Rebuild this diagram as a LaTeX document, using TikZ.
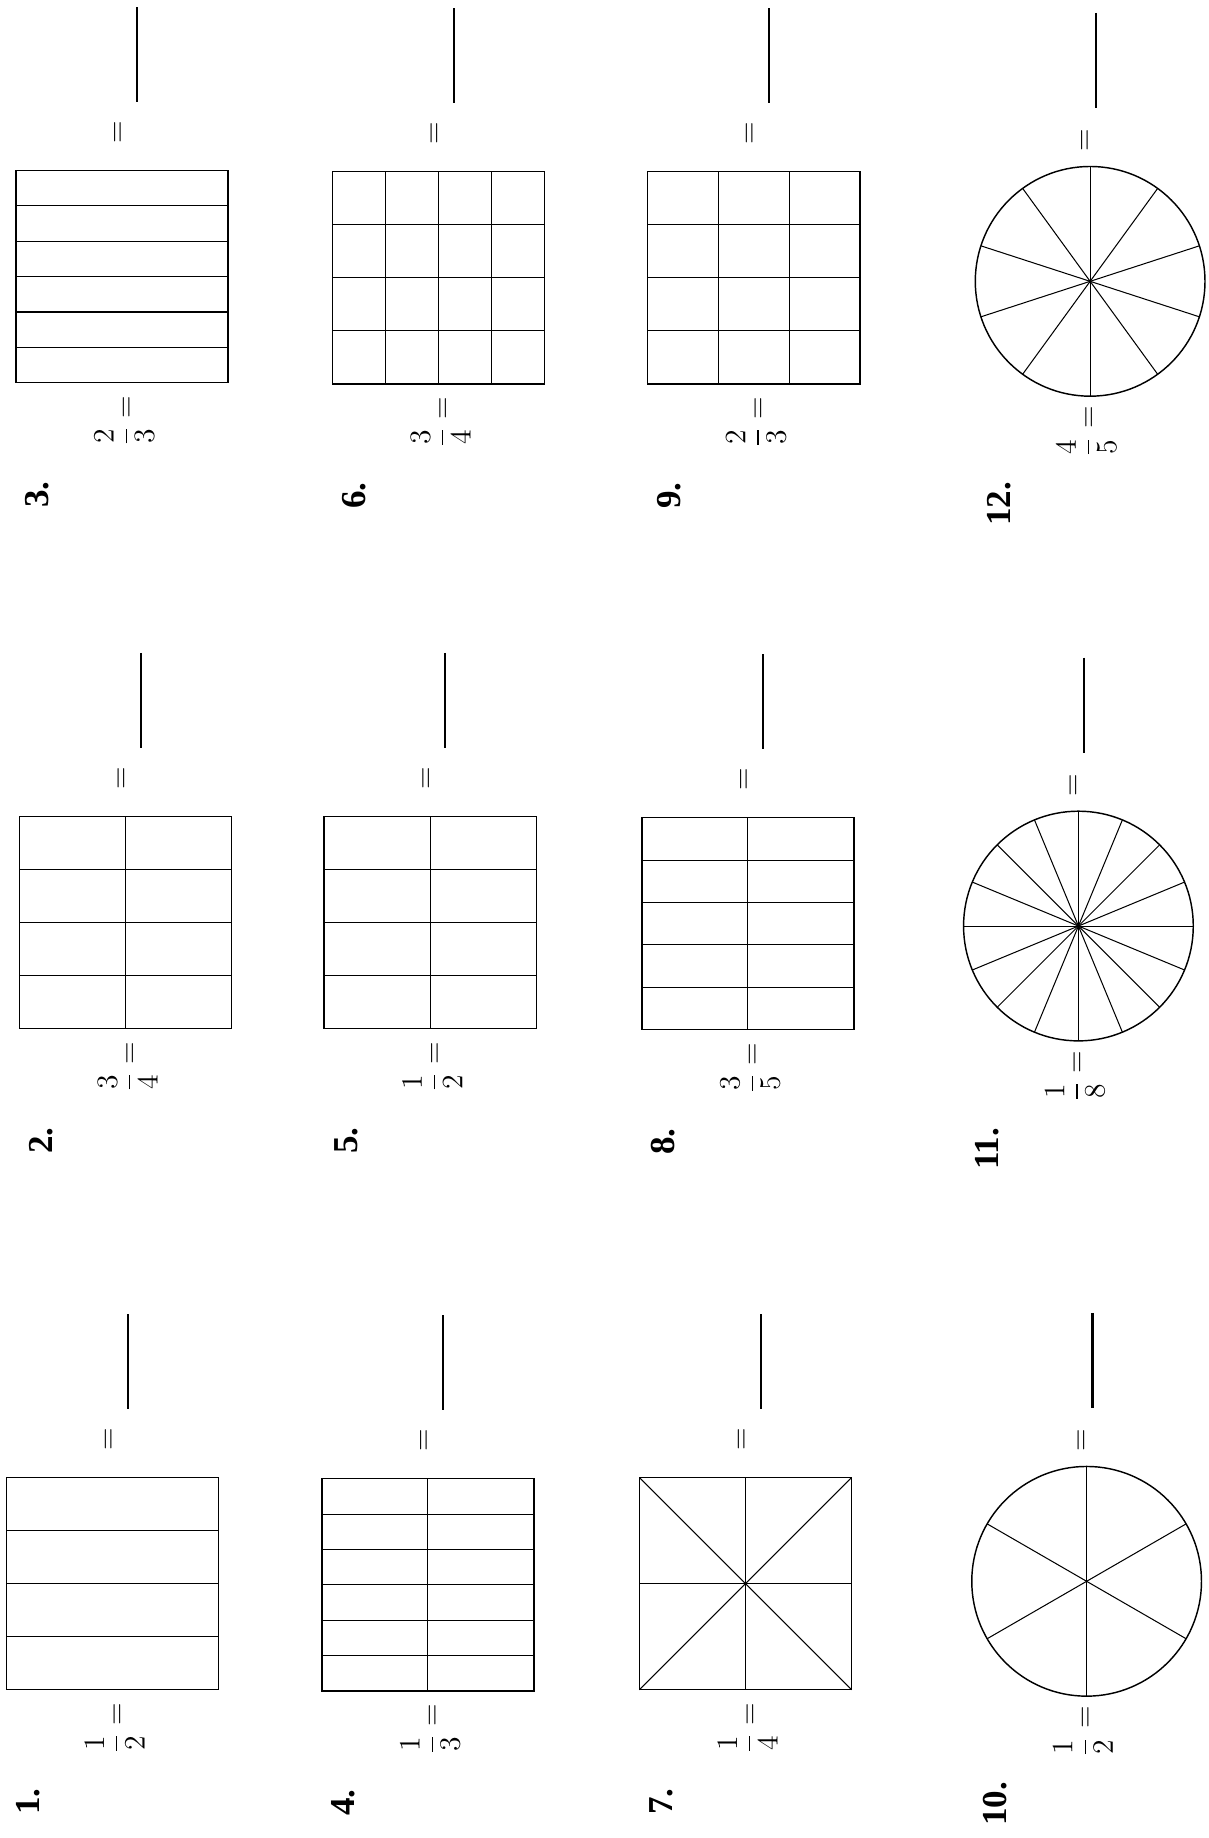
\documentclass[tikz,border=0pt]{standalone}
\usepackage{amsmath}
\usepackage{fontspec}
\setmainfont{Liberation Serif}
\usepackage{tikz}
\usetikzlibrary{calc}

\begin{document}
\begin{tikzpicture}[x=0.02cm,y=-0.02cm,
  box/.style={draw,line width=0.7pt,minimum size=3.62cm,inner sep=0pt,outer sep=0pt},
  disc/.style={draw,circle,line width=0.7pt,minimum size=3.92cm,inner sep=0pt,outer sep=0pt},
  part/.style={line width=0.5pt},
  blank/.style={line width=1pt},
  num/.style={rotate=90,font=\fontsize{17}{20}\selectfont\bfseries},
  eqn/.style={rotate=90,font=\fontsize{14}{16}\selectfont}]
\useasboundingbox (0,0) rectangle (1031,1568);

\node[box] (sq1) at (96,1351) {};
\foreach \k in {1,2,3}
  \draw[part] ($(sq1.north west)!{\k/4}!(sq1.south west)$) -- ($(sq1.north east)!{\k/4}!(sq1.south east)$);
\node[num] (n1) at ($(sq1)+(-72,186)$) {1.};
\node[eqn] (f1) at ($(sq1)+(2,123)$) {$\dfrac{1}{2}=$};
\node[eqn] (e1) at ($(sq1)+(-2,-123)$) {$=$};
\draw[blank] ($(sq1)+(13,-230)$) -- ++(0,81);

\node[box] (sq2) at (107,787) {};
\foreach \k in {1,2,3}
  \draw[part] ($(sq2.north west)!{\k/4}!(sq2.south west)$) -- ($(sq2.north east)!{\k/4}!(sq2.south east)$);
\draw[part] (sq2.north) -- (sq2.south);
\node[num] (n2) at ($(sq2)+(-72,186)$) {2.};
\node[eqn] (f2) at ($(sq2)+(2,123)$) {$\dfrac{3}{4}=$};
\node[eqn] (e2) at ($(sq2)+(-2,-123)$) {$=$};
\draw[blank] ($(sq2)+(13,-230)$) -- ++(0,81);

\node[box] (sq3) at (104,236) {};
\foreach \k in {1,...,5}
  \draw[part] ($(sq3.north west)!{\k/6}!(sq3.south west)$) -- ($(sq3.north east)!{\k/6}!(sq3.south east)$);
\node[num] (n3) at ($(sq3)+(-72,186)$) {3.};
\node[eqn] (f3) at ($(sq3)+(2,123)$) {$\dfrac{2}{3}=$};
\node[eqn] (e3) at ($(sq3)+(-2,-123)$) {$=$};
\draw[blank] ($(sq3)+(13,-230)$) -- ++(0,81);

\node[box] (sq4) at (365,1352) {};
\foreach \k in {1,...,5}
  \draw[part] ($(sq4.north west)!{\k/6}!(sq4.south west)$) -- ($(sq4.north east)!{\k/6}!(sq4.south east)$);
\draw[part] (sq4.north) -- (sq4.south);
\node[num] (n4) at ($(sq4)+(-72,186)$) {4.};
\node[eqn] (f4) at ($(sq4)+(2,123)$) {$\dfrac{1}{3}=$};
\node[eqn] (e4) at ($(sq4)+(-2,-123)$) {$=$};
\draw[blank] ($(sq4)+(13,-230)$) -- ++(0,81);

\node[box] (sq5) at (367,787) {};
\foreach \k in {1,2,3}
  \draw[part] ($(sq5.north west)!{\k/4}!(sq5.south west)$) -- ($(sq5.north east)!{\k/4}!(sq5.south east)$);
\draw[part] (sq5.north) -- (sq5.south);
\node[num] (n5) at ($(sq5)+(-72,186)$) {5.};
\node[eqn] (f5) at ($(sq5)+(2,123)$) {$\dfrac{1}{2}=$};
\node[eqn] (e5) at ($(sq5)+(-2,-123)$) {$=$};
\draw[blank] ($(sq5)+(13,-230)$) -- ++(0,81);

\node[box] (sq6) at (374,237) {};
\foreach \k in {1,2,3} {
  \draw[part] ($(sq6.north west)!{\k/4}!(sq6.south west)$) -- ($(sq6.north east)!{\k/4}!(sq6.south east)$);
  \draw[part] ($(sq6.north west)!{\k/4}!(sq6.north east)$) -- ($(sq6.south west)!{\k/4}!(sq6.south east)$);
}
\node[num] (n6) at ($(sq6)+(-72,186)$) {6.};
\node[eqn] (f6) at ($(sq6)+(2,123)$) {$\dfrac{3}{4}=$};
\node[eqn] (e6) at ($(sq6)+(-2,-123)$) {$=$};
\draw[blank] ($(sq6)+(13,-230)$) -- ++(0,81);

\node[box] (sq7) at (636,1351) {};
\draw[part] (sq7.north) -- (sq7.south);
\draw[part] (sq7.west) -- (sq7.east);
\draw[part] (sq7.north west) -- (sq7.south east);
\draw[part] (sq7.north east) -- (sq7.south west);
\node[num] (n7) at ($(sq7)+(-72,186)$) {7.};
\node[eqn] (f7) at ($(sq7)+(2,123)$) {$\dfrac{1}{4}=$};
\node[eqn] (e7) at ($(sq7)+(-2,-123)$) {$=$};
\draw[blank] ($(sq7)+(13,-230)$) -- ++(0,81);

\node[box] (sq8) at (638,788) {};
\foreach \k in {1,...,4}
  \draw[part] ($(sq8.north west)!{\k/5}!(sq8.south west)$) -- ($(sq8.north east)!{\k/5}!(sq8.south east)$);
\draw[part] (sq8.north) -- (sq8.south);
\node[num] (n8) at ($(sq8)+(-72,186)$) {8.};
\node[eqn] (f8) at ($(sq8)+(2,123)$) {$\dfrac{3}{5}=$};
\node[eqn] (e8) at ($(sq8)+(-2,-123)$) {$=$};
\draw[blank] ($(sq8)+(13,-230)$) -- ++(0,81);

\node[box] (sq9) at (643,237) {};
\foreach \k in {1,2,3}
  \draw[part] ($(sq9.north west)!{\k/4}!(sq9.south west)$) -- ($(sq9.north east)!{\k/4}!(sq9.south east)$);
\foreach \k in {1,2}
  \draw[part] ($(sq9.north west)!{\k/3}!(sq9.north east)$) -- ($(sq9.south west)!{\k/3}!(sq9.south east)$);
\node[num] (n9) at ($(sq9)+(-72,186)$) {9.};
\node[eqn] (f9) at ($(sq9)+(2,123)$) {$\dfrac{2}{3}=$};
\node[eqn] (e9) at ($(sq9)+(-2,-123)$) {$=$};
\draw[blank] ($(sq9)+(13,-230)$) -- ++(0,81);

\node[disc] (c10) at (927,1349) {};
\foreach \k in {0,...,5}
  \draw[part] (c10.center) -- ($(c10.center)+(30+\k*60:98)$);
\node[num] (n10) at ($(c10)+(-78,190)$) {10.};
\node[eqn] (f10) at ($(c10)+(-3,128)$) {$\dfrac{1}{2}=$};
\node[eqn] (e10) at ($(c10)+(-3,-120)$) {$=$};
\draw[blank] ($(c10)+(5,-229)$) -- ++(0,81);

\node[disc] (c11) at (920,790) {};
\foreach \k in {0,...,15}
  \draw[part] (c11.center) -- ($(c11.center)+(\k*22.5:98)$);
\node[num] (n11) at ($(c11)+(-78,190)$) {11.};
\node[eqn] (f11) at ($(c11)+(-3,128)$) {$\dfrac{1}{8}=$};
\node[eqn] (e11) at ($(c11)+(-3,-120)$) {$=$};
\draw[blank] ($(c11)+(5,-229)$) -- ++(0,81);

\node[disc] (c12) at (930,240) {};
\foreach \k in {0,...,9}
  \draw[part] (c12.center) -- ($(c12.center)+(18+\k*36:98)$);
\node[num] (n12) at ($(c12)+(-78,190)$) {12.};
\node[eqn] (f12) at ($(c12)+(-3,128)$) {$\dfrac{4}{5}=$};
\node[eqn] (e12) at ($(c12)+(-3,-120)$) {$=$};
\draw[blank] ($(c12)+(5,-229)$) -- ++(0,81);
\end{tikzpicture}
\end{document}
